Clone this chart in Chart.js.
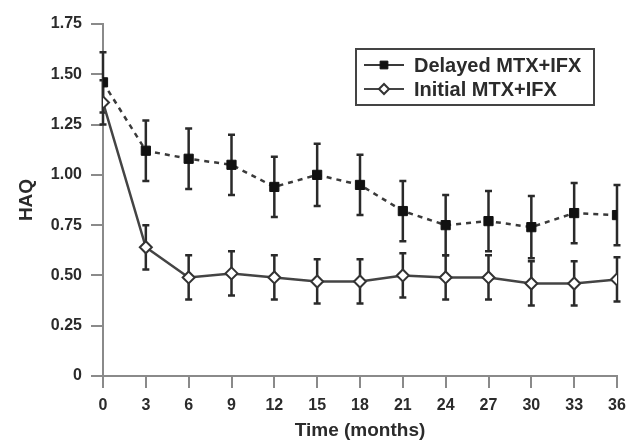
<!DOCTYPE html>
<html>
<head>
<meta charset="utf-8">
<script src="https://cdn.jsdelivr.net/npm/chart.js@4.4.0/dist/chart.umd.min.js"></script>
<style>
  html, body { margin: 0; padding: 0; background: #fff; }
  #wrap { width: 634px; height: 442px; }
</style>
</head>
<body>
<div id="wrap"><canvas id="haqChart"></canvas></div>
<script>
// months
const months = [0, 3, 6, 9, 12, 15, 18, 21, 24, 27, 30, 33, 36];

// HAQ means
const delayedHaq = [1.46, 1.12, 1.08, 1.05, 0.94, 1.00, 0.95, 0.82, 0.75, 0.77, 0.74, 0.81, 0.80];
const initialHaq = [1.36, 0.64, 0.49, 0.51, 0.49, 0.47, 0.47, 0.50, 0.49, 0.49, 0.46, 0.46, 0.48];

// error bar half widths
const delayedErr = [0.15, 0.15, 0.15, 0.15, 0.15, 0.155, 0.15, 0.15, 0.15, 0.15, 0.155, 0.15, 0.15];
const initialErr = [0.11, 0.11, 0.11, 0.11, 0.11, 0.11, 0.11, 0.11, 0.11, 0.11, 0.11, 0.11, 0.11];

const yTicks = [0, 0.25, 0.5, 0.75, 1.0, 1.25, 1.5, 1.75];

const font = 'Liberation Sans, Arial, Helvetica, sans-serif';
const inkColor = '#2b2b2b';
const axisColor = '#8a8a8a';

// error bars drawn under the points
const errorBars = {
  id: 'errorBars',
  beforeDatasetsDraw(chart) {
    const ctx = chart.ctx;
    const x = chart.scales.x, y = chart.scales.y;
    const errs = [delayedErr, initialErr];
    ctx.save();
    ctx.strokeStyle = '#2a2a2a';
    ctx.lineWidth = 2.5;
    chart.data.datasets.forEach((ds, i) => {
      ds.data.forEach((p, j) => {
        const px = x.getPixelForValue(p.x);
        const top = y.getPixelForValue(p.y + errs[i][j]);
        const bot = y.getPixelForValue(p.y - errs[i][j]);
        ctx.beginPath();
        ctx.moveTo(px, top); ctx.lineTo(px, bot);
        ctx.moveTo(px - 3.5, top); ctx.lineTo(px + 3.5, top);
        ctx.moveTo(px - 3.5, bot); ctx.lineTo(px + 3.5, bot);
        ctx.stroke();
      });
    });
    ctx.restore();
  }
};

// boxed legend inside the plot
const boxLegend = {
  id: 'boxLegend',
  afterDraw(chart) {
    const ctx = chart.ctx;
    const area = chart.chartArea;
    const bx = area.left + 253, by = area.top + 25, bw = 238, bh = 56;
    ctx.save();
    ctx.strokeStyle = '#444';
    ctx.lineWidth = 2;
    ctx.strokeRect(bx, by, bw, bh);
    chart.data.datasets.forEach((ds, i) => {
      const cy = by + 16 + i * 24;
      ctx.strokeStyle = ds.borderColor;
      ctx.lineWidth = 2;
      ctx.setLineDash([]);
      ctx.beginPath();
      ctx.moveTo(bx + 8, cy); ctx.lineTo(bx + 48, cy);
      ctx.stroke();
      ctx.lineWidth = ds.pointBorderWidth;
      ctx.fillStyle = ds.pointBackgroundColor;
      ctx.strokeStyle = ds.pointBorderColor;
      Chart.helpers.drawPoint(ctx, {
        pointStyle: ds.pointStyle, radius: ds.pointRadius - 1, borderWidth: ds.pointBorderWidth
      }, bx + 28, cy);
      ctx.fillStyle = inkColor;
      ctx.font = 'bold 20px ' + font;
      ctx.textBaseline = 'middle';
      ctx.fillText(ds.label, bx + 58, cy + 1);
    });
    ctx.restore();
  }
};

new Chart(document.getElementById('haqChart'), {
  type: 'line',
  data: {
    datasets: [
      {
        label: 'Delayed MTX+IFX',
        data: months.map((m, i) => ({ x: m, y: delayedHaq[i] })),
        borderColor: '#3a3a3a',
        borderWidth: 2.5,
        borderDash: [5, 5],
        pointStyle: 'rect',
        pointRadius: 6.5,
        pointBackgroundColor: '#111',
        pointBorderColor: '#111',
        pointBorderWidth: 1,
        tension: 0
      },
      {
        label: 'Initial MTX+IFX',
        data: months.map((m, i) => ({ x: m, y: initialHaq[i] })),
        borderColor: '#444',
        borderWidth: 2.5,
        pointStyle: 'rectRot',
        pointRadius: 6,
        pointBackgroundColor: '#fff',
        pointBorderColor: '#333',
        pointBorderWidth: 2,
        tension: 0
      }
    ]
  },
  options: {
    responsive: true,
    maintainAspectRatio: false,
    animation: false,
    layout: { padding: { left: 0, right: 17, top: 24, bottom: 0 } },
    plugins: {
      legend: { display: false },
      tooltip: { enabled: false }
    },
    scales: {
      x: {
        type: 'linear',
        min: 0,
        max: 36,
        afterFit: s => { s.height = 66; },
        afterBuildTicks: s => { s.ticks = months.map(v => ({ value: v })); },
        border: { color: axisColor, width: 2 },
        grid: { drawOnChartArea: false, tickLength: 12, color: axisColor, lineWidth: 2 },
        ticks: { color: inkColor, font: { family: font, size: 16, weight: 'bold' }, padding: 8 },
        title: {
          display: true,
          text: 'Time (months)',
          color: inkColor,
          font: { family: font, size: 19, weight: 'bold' },
          padding: { top: 0, bottom: 0 }
        }
      },
      y: {
        min: 0,
        max: 1.75,
        afterFit: s => { s.width = 103; },
        afterBuildTicks: s => { s.ticks = yTicks.map(v => ({ value: v })); },
        border: { color: axisColor, width: 2 },
        grid: { drawOnChartArea: false, tickLength: 12, color: axisColor, lineWidth: 2 },
        ticks: {
          color: inkColor,
          font: { family: font, size: 16, weight: 'bold' },
          padding: 9,
          callback: v => v === 0 ? '0' : v.toFixed(2)
        },
        title: {
          display: true,
          text: 'HAQ',
          color: inkColor,
          font: { family: font, size: 19, weight: 'bold' },
          padding: { top: 15, bottom: 0 }
        }
      }
    }
  },
  plugins: [errorBars, boxLegend]
});
</script>
</body>
</html>
